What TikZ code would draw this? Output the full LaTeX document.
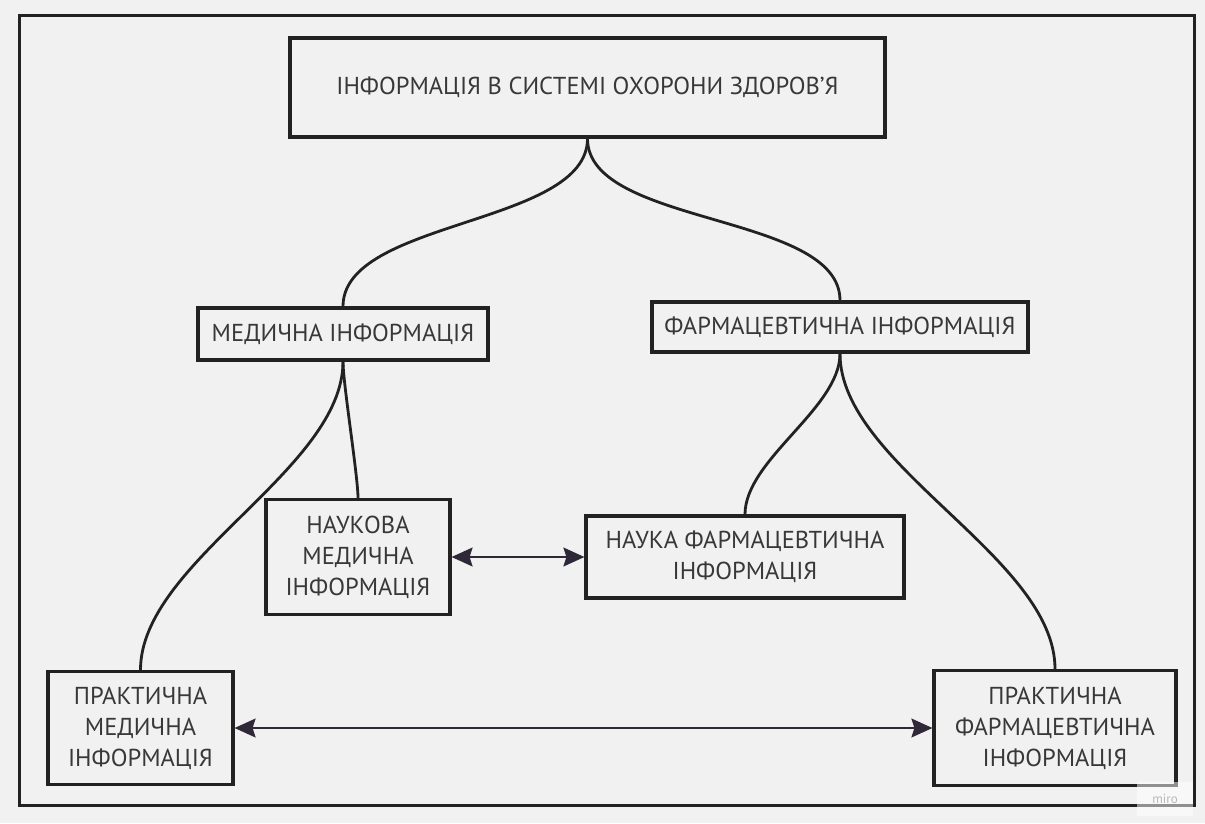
\documentclass[tikz,border=0pt]{standalone}
\usepackage{fontspec}
\setmainfont{PT Sans}
\usetikzlibrary{arrows.meta}
\definecolor{bg}{HTML}{F1F1F1}
\definecolor{ink}{HTML}{222222}
\definecolor{txt}{HTML}{383838}
\definecolor{arr}{HTML}{2E2838}

\begin{document}
\begin{tikzpicture}[x=1pt,y=-1pt,
    box/.style={draw=ink, line width=3.2pt, rectangle, inner sep=0pt, text=txt,
                align=center, font=\fontsize{24.5}{31}\selectfont},
    link/.style={draw=ink, line width=2.8pt, out=-90, in=90, looseness=0.75},
    both/.style={draw=arr, line width=1.4pt,
                 {Stealth[length=21pt,width=19pt,inset=3pt]}-{Stealth[length=21pt,width=19pt,inset=3pt]}}]
   \fill[bg] (0,0) rectangle (1205,823);
   \draw[ink, line width=3pt] (19,15) rectangle (1194,805);

   % boxes
   \node[box, minimum width=595pt, minimum height=99pt] (info) at (587.5,87.5)
        {ІНФОРМАЦІЯ В СИСТЕМІ ОХОРОНИ ЗДОРОВ'Я};
   \node[box, minimum width=290pt, minimum height=52pt] (med) at (343,334)
        {МЕДИЧНА ІНФОРМАЦІЯ};
   \node[box, minimum width=376pt, minimum height=50pt] (pharm) at (840,327)
        {ФАРМАЦЕВТИЧНА ІНФОРМАЦІЯ};
   \node[box, minimum width=184pt, minimum height=115pt] (med_sci) at (358,557)
        {НАУКОВА\\МЕДИЧНА\\ІНФОРМАЦІЯ};
   \node[box, minimum width=318pt, minimum height=82pt] (pharm_sci) at (745,557)
        {НАУКА ФАРМАЦЕВТИЧНА\\ІНФОРМАЦІЯ};
   \node[box, minimum width=185pt, minimum height=113pt] (med_pr) at (140.5,728)
        {ПРАКТИЧНА\\МЕДИЧНА\\ІНФОРМАЦІЯ};
   \node[box, minimum width=242pt, minimum height=115pt] (pharm_pr) at (1055,728)
        {ПРАКТИЧНА\\ФАРМАЦЕВТИЧНА\\ІНФОРМАЦІЯ};

   % tree
   \path (info.south) edge[link] (med.north)
                      edge[link] (pharm.north)
         (med.south)  edge[link] (med_pr.north)
                      edge[link, looseness=0.4] (med_sci.north)
         (pharm.south) edge[link] (pharm_sci.north)
                       edge[link] (pharm_pr.north);

   % links between branches
   \draw[both] (med_sci) -- (pharm_sci);
   \draw[both] (med_pr) -- (pharm_pr);

   \node[fill=white, fill opacity=0.5, text opacity=1, text=gray!55,
         font=\fontsize{13}{13}\selectfont, minimum width=56pt, minimum height=34pt]
        (logo) at (1165,799) {miro};
\end{tikzpicture}
\end{document}
